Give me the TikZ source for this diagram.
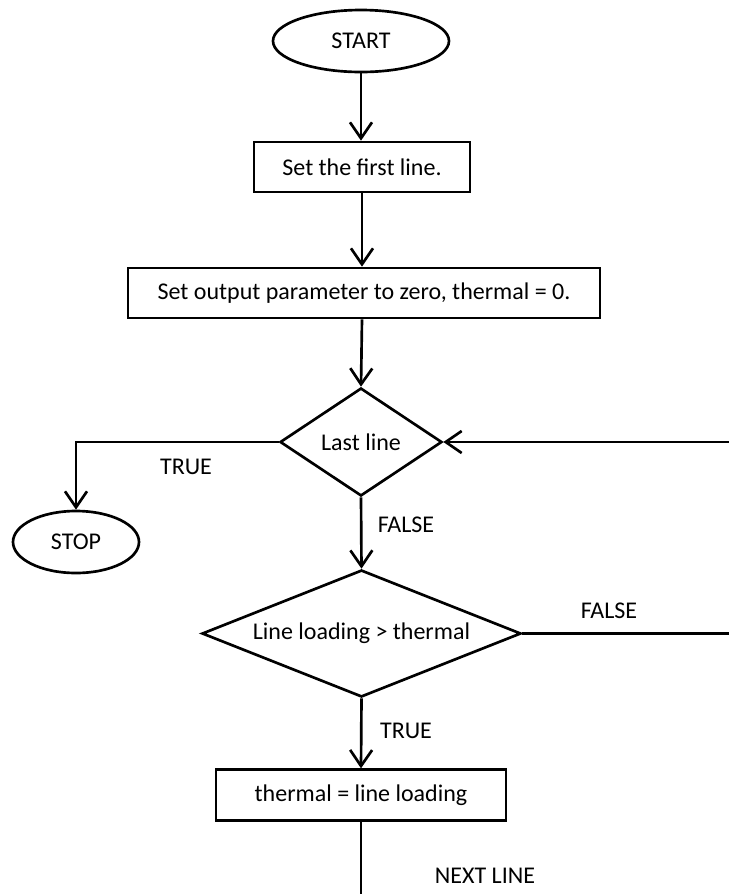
\documentclass[tikz,border=0pt]{standalone}
\usepackage{fontspec}
\setmainfont{Carlito}
\usetikzlibrary{shapes.geometric,arrows.meta}
\begin{document}
\begin{tikzpicture}[x=0.75pt,y=-0.75pt,
  every node/.style={font=\fontsize{18}{21.6}\selectfont},
  lw/.style={line width=2pt},
  term/.style={ellipse,draw,lw,inner sep=0pt,minimum width=#1,minimum height=46.5pt},
  proc/.style={rectangle,draw,lw,inner sep=0pt,minimum width=#1,minimum height=37.5pt},
  dec/.style={diamond,draw,lw,inner sep=0pt},
  flow/.style={lw,-{Straight Barb[length=12pt,width=16.5pt,line width=2pt]}},
  plain/.style={lw},
  lbl/.style={inner sep=0pt}
]
\useasboundingbox (0,0) rectangle (729,894);

\node[term=132pt] (start) at (361,41) {START};
\node[proc=162pt] (b1) at (362,167) {Set the first line.};
\node[proc=354pt] (b2) at (364,293) {Set output parameter to zero, thermal = 0.};
\node[dec,aspect=1.5,minimum width=121.5pt,minimum height=81pt] (d1) at (361,442) {Last line};
\node[term=94.5pt] (stop) at (76,542) {STOP};
\node[dec,aspect=2.5,minimum width=239.25pt,minimum height=95.25pt] (d2) at (361.5,633.5) {Line loading > thermal};
\node[proc=217.5pt,minimum height=38pt] (b3) at (361,795) {thermal = line loading};

\coordinate (rin) at (729,442);
\coordinate (rout) at (729,633.5);
\coordinate (bend) at (361,894);

\draw[flow] (start.south) -- (start.south |- b1.north);
\draw[flow] (b1.south) -- (b1.south |- b2.north);
\draw[flow] (b1.south |- b2.south) -- (d1.north);
\draw[flow] (d1.west) -| (stop.north);
\draw[flow] (rin) -- (d1.east);
\draw[flow] (d1.south) -- (d2.north);
\draw[plain] (d2.east) -- (rout);
\draw[flow] (d2.south) -- (b3.north);
\draw[plain] (b3.south) -- (bend);

\node[lbl] (t1) at (186,467) {TRUE};
\node[lbl] (f1) at (406,525) {FALSE};
\node[lbl] (f2) at (609,611) {FALSE};
\node[lbl] (t2) at (406,731) {TRUE};
\node[lbl] (nl) at (485,876) {NEXT LINE};
\end{tikzpicture}
\end{document}
